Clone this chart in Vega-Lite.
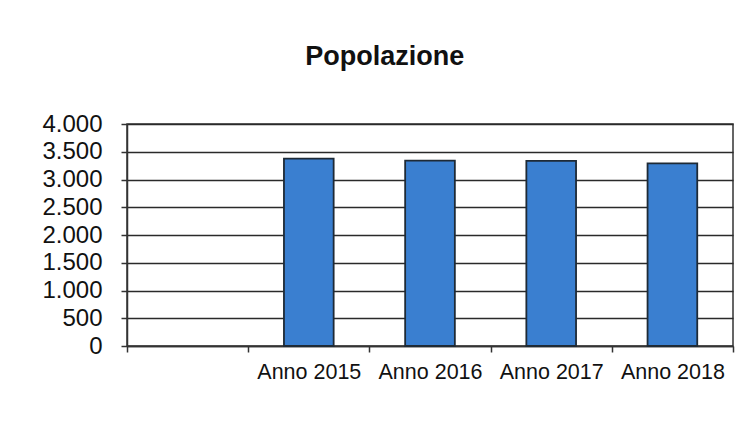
{
  "$schema": "https://vega.github.io/schema/vega-lite/v6.json",
  "width": 606,
  "height": 222,
  "autosize": {"type": "none"},
  "padding": {"left": 127, "top": 124, "right": 16, "bottom": 95},
  "background": "white",
  "title": {
    "text": "Popolazione",
    "font": "Liberation Sans",
    "fontSize": 27,
    "fontWeight": "bold",
    "color": "#111111",
    "anchor": "middle",
    "frame": "bounds",
    "dx": -3,
    "offset": 41
  },
  "data": {
    "values": [
      {"anno": "Anno 2015", "popolazione": 3375},
      {"anno": "Anno 2016", "popolazione": 3340},
      {"anno": "Anno 2017", "popolazione": 3335},
      {"anno": "Anno 2018", "popolazione": 3290}
    ]
  },
  "mark": {"type": "bar", "fill": "#3a7fd0", "stroke": "#1e2a36", "strokeWidth": 1.8, "width": {"band": 0.41}},
  "encoding": {
    "x": {
      "field": "anno",
      "type": "nominal",
      "sort": null,
      "scale": {
        "domain": [" ", "Anno 2015", "Anno 2016", "Anno 2017", "Anno 2018"],
        "paddingInner": 0,
        "paddingOuter": 0
      },
      "axis": {
        "title": null,
        "labelAngle": 0,
        "labelFont": "Liberation Sans",
        "labelFontSize": 21.5,
        "labelColor": "#111111",
        "labelPadding": 9,
        "tickBand": "extent",
        "tickSize": 6,
        "tickColor": "#333333",
        "domainColor": "#333333",
        "domainWidth": 1.5,
        "tickWidth": 1.5,
        "grid": false
      }
    },
    "y": {
      "field": "popolazione",
      "type": "quantitative",
      "scale": {"domain": [0, 4000], "nice": false},
      "axis": {
        "title": null,
        "values": [0, 500, 1000, 1500, 2000, 2500, 3000, 3500, 4000],
        "labelExpr": "replace(format(datum.value, ','), ',', '.')",
        "labelFont": "Liberation Sans",
        "labelFontSize": 24,
        "labelColor": "#111111",
        "labelPadding": 19,
        "tickSize": 6,
        "tickColor": "#333333",
        "tickWidth": 1.5,
        "domainColor": "#333333",
        "domainWidth": 1.5,
        "grid": true,
        "gridColor": "#2a2a2a",
        "gridWidth": 1.5,
        "gridOpacity": 1
      }
    }
  },
  "config": {
    "view": {"stroke": "#333333", "strokeWidth": 1.5},
    "axis": {"labelFlush": false}
  }
}
